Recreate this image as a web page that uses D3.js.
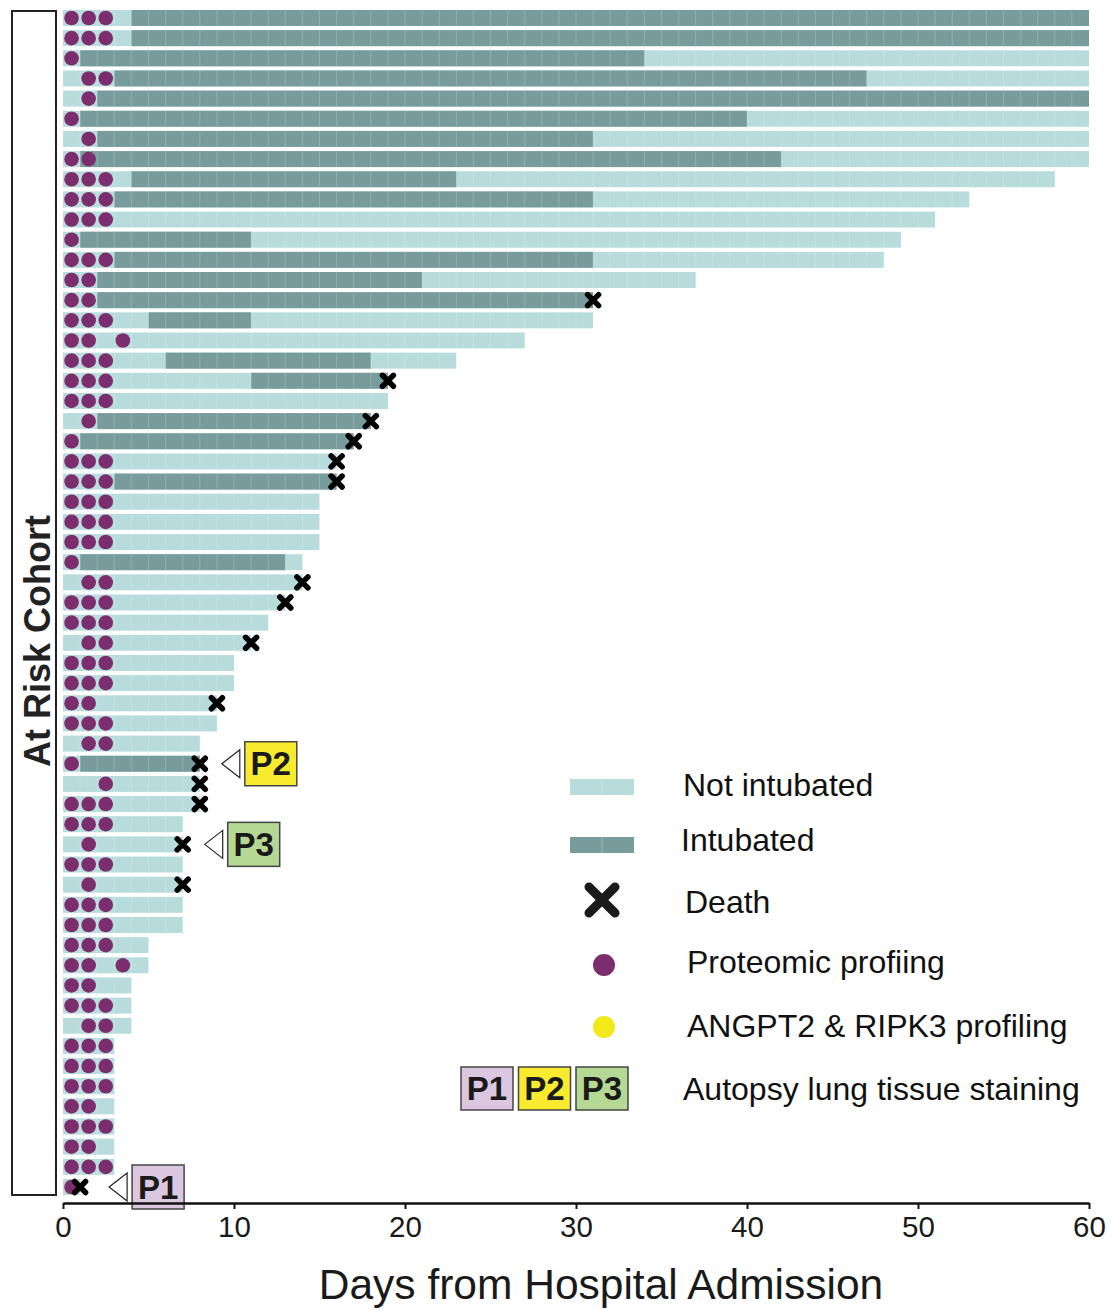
<!DOCTYPE html>
<html>
<head>
<meta charset="utf-8">
<script src="https://cdn.jsdelivr.net/npm/d3@7"></script>
<style>
  html, body { margin: 0; padding: 0; background: #fff; }
  svg { display: block; font-family: "Liberation Sans", Arial, sans-serif; }
</style>
</head>
<body>
<svg id="chart" width="1110" height="1310"></svg>
<script>
// ---------------- DATA ----------------
// one entry per patient, top to bottom
const totalDays = [60,60,60,60,60,60,60,60,58,53,51,49,48,37,31,31,27,23,19,19,
                   18,17,16,16,15,15,15,14,14,13,12,11,10,10,9,9,8,8,8,8,
                   7,7,7,7,7,7,5,5,4,4,4,3,3,3,3,3,3,3,1];
const intubStart = [4,4,1,3,2,1,2,1,4,3,null,1,3,2,2,5,null,6,11,null,
                    2,1,null,3,null,null,null,1,null,null,null,null,null,null,null,null,null,1,null,null,
                    null,null,null,null,null,null,null,null,null,null,null,null,null,null,null,null,null,null,null];
const intubEnd   = [60,60,34,47,60,40,31,42,23,31,null,11,31,21,31,11,null,18,19,null,
                    18,17,null,16,null,null,null,13,null,null,null,null,null,null,null,null,null,8,null,null,
                    null,null,null,null,null,null,null,null,null,null,null,null,null,null,null,null,null,null,null];
const died = [0,0,0,0,0,0,0,0,0,0,0,0,0,0,1,0,0,0,1,0,
              1,1,1,1,0,0,0,0,1,1,0,1,0,0,1,0,0,1,1,1,
              0,1,0,1,0,0,0,0,0,0,0,0,0,0,0,0,0,0,1];
const proteomicDays = [[0,1,2],[0,1,2],[0],[1,2],[1],[0],[1],[0,1],[0,1,2],[0,1,2],
                       [0,1,2],[0],[0,1,2],[0,1],[0,1],[0,1,2],[0,1,3],[0,1,2],[0,1,2],[0,1,2],
                       [1],[0],[0,1,2],[0,1,2],[0,1,2],[0,1,2],[0,1,2],[0],[1,2],[0,1,2],
                       [0,1,2],[1,2],[0,1,2],[0,1,2],[0,1],[0,1,2],[1,2],[0],[2],[0,1,2],
                       [0,1,2],[1],[0,1,2],[1],[0,1,2],[0,1,2],[0,1,2],[0,1,3],[0,1],[0,1,2],
                       [1,2],[0,1,2],[0,1,2],[0,1,2],[0,1],[0,1,2],[0,1],[0,1,2],[0]];
const autopsyRows   = [58, 37, 41];          // row index (0-based)
const autopsyLabels = ["P1", "P2", "P3"];
const autopsyColors = ["#dcc7e0", "#f8ea2e", "#b5d994"];
const xTicks = [0,10,20,30,40,50,60];
const legendLabels = ["Not intubated","Intubated","Death","Proteomic profiing","ANGPT2 & RIPK3 profiling","Autopsy lung tissue staining"];

// ---------------- STYLE ----------------
const C_LIGHT = "#b8dcdc", C_DARK = "#789c9c", C_DOT = "#7b2d6e", C_YEL = "#f2e81a";

const svg = d3.select("#chart");
const x = d3.scaleLinear().domain([0, 60]).range([63, 1089]);
const rows = d3.range(totalDays.length);
const y = d3.scalePoint().domain(rows).range([18, 1187]);
const barH = 16;

// left cohort box
svg.append("rect").attr("x", 12).attr("y", 11).attr("width", 44).attr("height", 1184)
  .attr("fill", "none").attr("stroke", "#222").attr("stroke-width", 2);
svg.append("text").attr("transform", "translate(50,641) rotate(-90)")
  .attr("text-anchor", "middle").attr("font-size", 36).attr("font-weight", "bold")
  .attr("fill", "#222").text("At Risk Cohort");

const g = svg.append("g");
const rowG = g.selectAll("g.row").data(rows).join("g").attr("class", "row");

// not intubated base
rowG.append("rect")
  .attr("x", x(0)).attr("y", i => y(i) - barH / 2)
  .attr("width", i => x(totalDays[i]) - x(0)).attr("height", barH)
  .attr("fill", C_LIGHT);
// intubated
rowG.filter(i => intubStart[i] !== null).append("rect")
  .attr("x", i => x(intubStart[i])).attr("y", i => y(i) - barH / 2)
  .attr("width", i => x(intubEnd[i]) - x(intubStart[i])).attr("height", barH)
  .attr("fill", C_DARK);
// day cell separators
rowG.each(function (i) {
  d3.select(this).selectAll("line.sep").data(d3.range(1, totalDays[i])).join("line")
    .attr("class", "sep")
    .attr("x1", d => x(d)).attr("x2", d => x(d))
    .attr("y1", y(i) - barH / 2).attr("y2", y(i) + barH / 2)
    .attr("stroke", "#fff").attr("stroke-opacity", 0.2).attr("stroke-width", 1);
});
// proteomic dots
rowG.each(function (i) {
  d3.select(this).selectAll("circle").data(proteomicDays[i]).join("circle")
    .attr("cx", d => x(d + 0.5)).attr("cy", y(i)).attr("r", 7.3).attr("fill", C_DOT);
});
// death markers
function cross(s) { return `M${-s},${-s}L${s},${s}M${-s},${s}L${s},${-s}`; }
rowG.filter(i => died[i]).append("path")
  .attr("transform", i => `translate(${x(totalDays[i])},${y(i)})`)
  .attr("d", cross(5.5)).attr("stroke", "#000").attr("stroke-width", 5.5)
  .attr("stroke-linecap", "round").attr("fill", "none");

// autopsy annotations
autopsyRows.forEach((r, k) => {
  const tip = x(totalDays[r]) + 22 + (k === 0 ? 7 : 0);
  const cy = y(r);
  svg.append("path")
    .attr("d", `M${tip},${cy}L${tip + 18},${cy - 14}L${tip + 18},${cy + 14}Z`)
    .attr("fill", "#fff").attr("stroke", "#222").attr("stroke-width", 1.2);
  svg.append("rect").attr("x", tip + 23).attr("y", cy - 22).attr("width", 52).attr("height", 44)
    .attr("fill", autopsyColors[k]).attr("stroke", "#444").attr("stroke-width", 1.5);
  svg.append("text").attr("x", tip + 49).attr("y", cy + 11.5).attr("text-anchor", "middle")
    .attr("font-size", 33).attr("font-weight", "bold").attr("fill", "#1a1a1a").text(autopsyLabels[k]);
});

// x axis
const axisG = svg.append("g").attr("transform", "translate(0,1203)")
  .call(d3.axisBottom(x).tickValues(xTicks).tickSize(6).tickSizeOuter(0).tickPadding(7));
axisG.select(".domain").attr("stroke", "#111").attr("stroke-width", 2.5);
axisG.selectAll(".tick line").attr("stroke", "#111").attr("stroke-width", 2);
axisG.selectAll(".tick text").attr("font-size", 29.5).attr("fill", "#1a1a1a")
  .attr("font-family", "'Liberation Sans', Arial, sans-serif");
svg.append("text").attr("x", 601).attr("y", 1299).attr("text-anchor", "middle")
  .attr("font-size", 42.5).attr("fill", "#1a1a1a").text("Days from Hospital Admission");

// legend
const lg = svg.append("g");
lg.append("rect").attr("x", 570).attr("y", 779).attr("width", 64).attr("height", 16).attr("fill", C_LIGHT);
lg.append("line").attr("x1", 602).attr("x2", 602).attr("y1", 779).attr("y2", 795).attr("stroke", "#fff").attr("stroke-opacity", 0.25);
lg.append("rect").attr("x", 570).attr("y", 837).attr("width", 64).attr("height", 16).attr("fill", C_DARK);
lg.append("line").attr("x1", 602).attr("x2", 602).attr("y1", 837).attr("y2", 853).attr("stroke", "#fff").attr("stroke-opacity", 0.25);
lg.append("path").attr("transform", "translate(602,900)").attr("d", cross(13))
  .attr("stroke", "#1a1a1a").attr("stroke-width", 9).attr("stroke-linecap", "round").attr("fill", "none");
lg.append("circle").attr("cx", 604).attr("cy", 965).attr("r", 11).attr("fill", C_DOT);
lg.append("circle").attr("cx", 604).attr("cy", 1027).attr("r", 11).attr("fill", C_YEL);
autopsyLabels.forEach((lab, k) => {
  const bx = 461 + k * 57.5;
  lg.append("rect").attr("x", bx).attr("y", 1067).attr("width", 52).attr("height", 43)
    .attr("fill", autopsyColors[k]).attr("stroke", "#444").attr("stroke-width", 1.5);
  lg.append("text").attr("x", bx + 26).attr("y", 1100).attr("text-anchor", "middle")
    .attr("font-size", 33).attr("font-weight", "bold").attr("fill", "#1a1a1a").text(lab);
});
const legTextX = [683, 681, 685, 687, 687, 683];
const legTextY = [796, 851, 913, 973, 1037, 1100];
legendLabels.forEach((t, k) => {
  lg.append("text").attr("x", legTextX[k]).attr("y", legTextY[k])
    .attr("font-size", 32).attr("fill", "#111").text(t);
});
</script>
</body>
</html>
